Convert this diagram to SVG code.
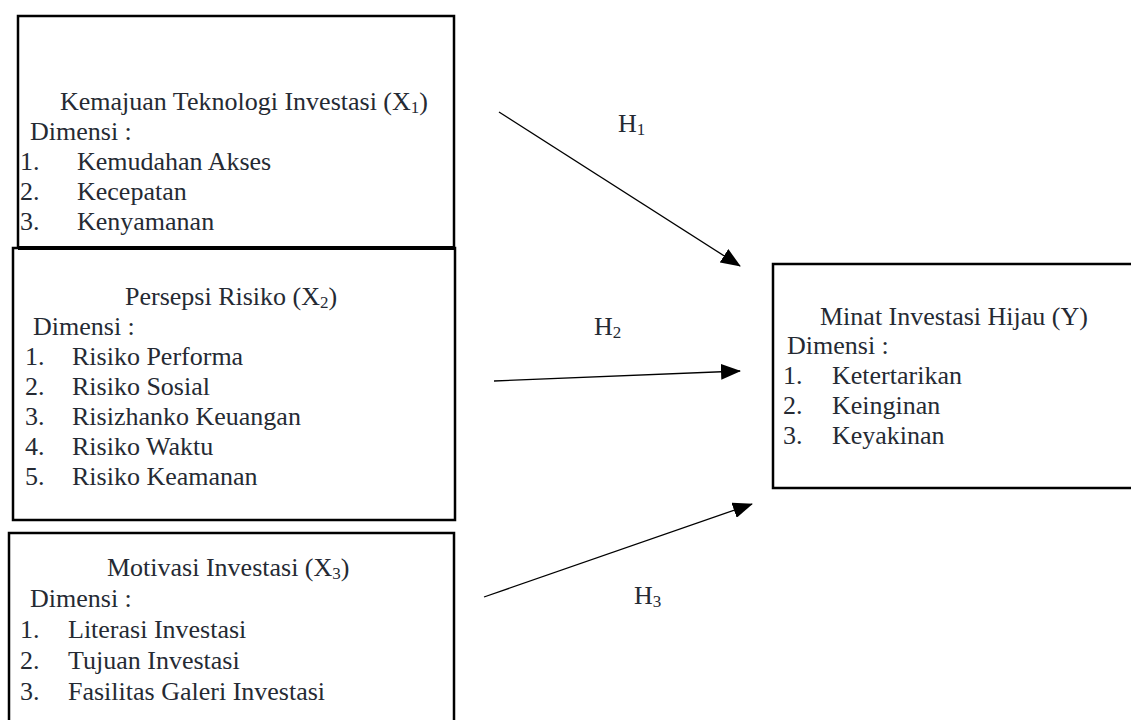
<svg xmlns="http://www.w3.org/2000/svg" width="1131" height="720" viewBox="0 0 1131 720">
<defs>
<marker id="ah" markerWidth="20" markerHeight="16" refX="19" refY="8" orient="auto" markerUnits="userSpaceOnUse">
<path d="M0,0 L20,8 L0,16 Z" fill="#000"/>
</marker>
<style>
.box{fill:#fff;stroke:#000;stroke-width:2.5}
.t{font-family:"Liberation Serif","Times New Roman",serif;font-size:26px;fill:#252a33}
.sub{font-size:17px}
.con{stroke:#000;stroke-width:1.3;fill:none;marker-end:url(#ah)}
</style>
</defs>
<rect width="1131" height="720" fill="#fff"/>
<g id="x1">
<rect class="box" x="18" y="16" width="436" height="232"/>
<text class="t" x="60" y="110">Kemajuan Teknologi Investasi (X<tspan class="sub" dy="3">1</tspan><tspan dy="-3">)</tspan></text>
<text class="t" x="30" y="140">Dimensi :</text>
<text class="t" x="20" y="170">1.</text><text class="t" x="77" y="170">Kemudahan Akses</text>
<text class="t" x="20" y="200">2.</text><text class="t" x="77" y="200">Kecepatan</text>
<text class="t" x="20" y="230">3.</text><text class="t" x="77" y="230">Kenyamanan</text>
</g>
<g id="x2">
<rect class="box" x="13" y="248" width="442" height="272"/>
<line x1="18" y1="248" x2="454" y2="248" stroke="#000" stroke-width="4"/>
<text class="t" x="125" y="305">Persepsi Risiko (X<tspan class="sub" dy="3">2</tspan><tspan dy="-3">)</tspan></text>
<text class="t" x="33" y="335">Dimensi :</text>
<text class="t" x="25" y="365">1.</text><text class="t" x="72" y="365">Risiko Performa</text>
<text class="t" x="25" y="395">2.</text><text class="t" x="72" y="395">Risiko Sosial</text>
<text class="t" x="25" y="425">3.</text><text class="t" x="72" y="425">Risizhanko Keuangan</text>
<text class="t" x="25" y="455">4.</text><text class="t" x="72" y="455">Risiko Waktu</text>
<text class="t" x="25" y="485">5.</text><text class="t" x="72" y="485">Risiko Keamanan</text>
</g>
<g id="x3">
<rect class="box" x="9" y="533" width="445" height="200"/>
<text class="t" x="107" y="576">Motivasi Investasi (X<tspan class="sub" dy="3">3</tspan><tspan dy="-3">)</tspan></text>
<text class="t" x="30" y="607">Dimensi :</text>
<text class="t" x="20" y="638">1.</text><text class="t" x="68" y="638">Literasi Investasi</text>
<text class="t" x="20" y="669">2.</text><text class="t" x="68" y="669">Tujuan Investasi</text>
<text class="t" x="20" y="700">3.</text><text class="t" x="68" y="700">Fasilitas Galeri Investasi</text>
</g>
<g id="y">
<rect class="box" x="773" y="264" width="370" height="224"/>
<text class="t" x="820" y="325">Minat Investasi Hijau (Y)</text>
<text class="t" x="787" y="354">Dimensi :</text>
<text class="t" x="783" y="384">1.</text><text class="t" x="832" y="384">Ketertarikan</text>
<text class="t" x="783" y="414">2.</text><text class="t" x="832" y="414">Keinginan</text>
<text class="t" x="783" y="444">3.</text><text class="t" x="832" y="444">Keyakinan</text>
</g>
<g id="connectors">
<line class="con" x1="499" y1="112" x2="740" y2="266"/>
<line class="con" x1="494" y1="381" x2="740" y2="371"/>
<line class="con" x1="484" y1="597" x2="752" y2="504"/>
<text class="t" x="618" y="132">H<tspan class="sub" dy="3">1</tspan></text>
<text class="t" x="594" y="335">H<tspan class="sub" dy="3">2</tspan></text>
<text class="t" x="634" y="604">H<tspan class="sub" dy="3">3</tspan></text>
</g>
</svg>
